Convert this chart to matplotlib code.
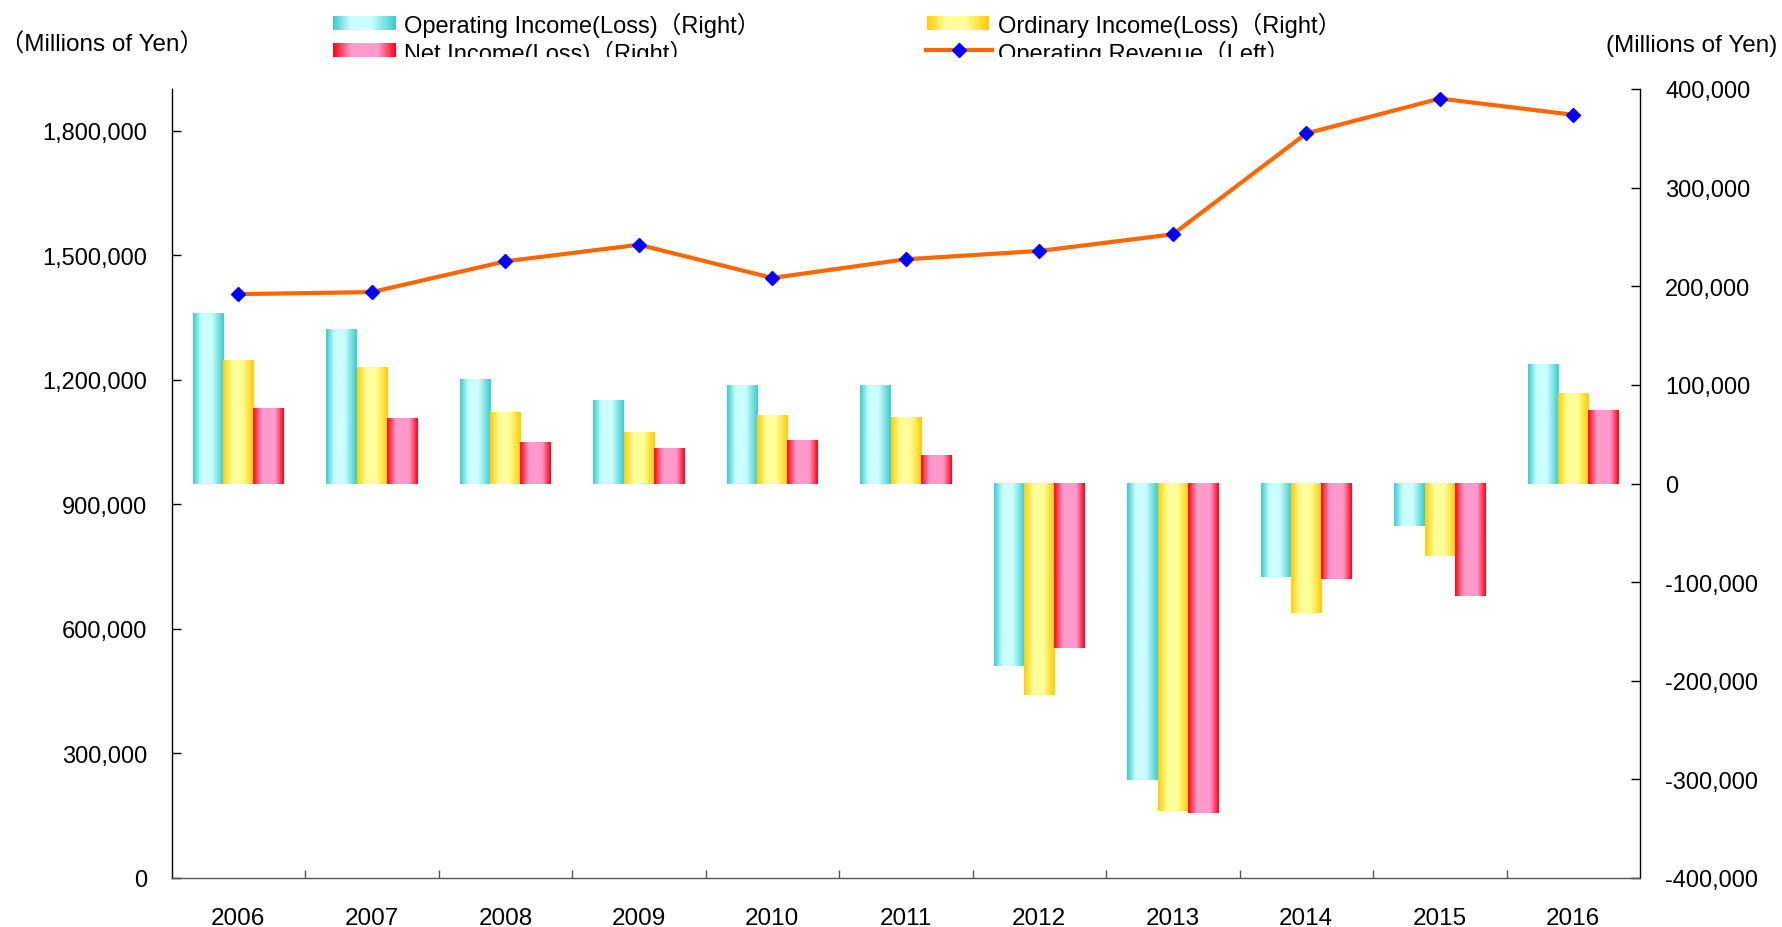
import matplotlib
matplotlib.use("Agg")
import matplotlib.pyplot as plt
import matplotlib.colors as mcolors
import numpy as np
from matplotlib.lines import Line2D
from matplotlib.ticker import FuncFormatter
from matplotlib.transforms import Bbox, TransformedBbox

YEARS = ["2006", "2007", "2008", "2009", "2010", "2011",
         "2012", "2013", "2014", "2015", "2016"]

# left axis (millions of yen)
OPERATING_REVENUE = [1406000, 1411000, 1485000, 1525000, 1445000, 1490000,
                     1510000, 1550000, 1793000, 1877000, 1838000]

# right axis (millions of yen)
OPERATING_INCOME = [173000, 157000, 106000, 85000, 100000, 100000,
                    -185000, -301000, -95000, -43000, 121000]
ORDINARY_INCOME = [125000, 118000, 73000, 52000, 69000, 67000,
                   -214000, -332000, -131000, -74000, 92000]
NET_INCOME = [77000, 66000, 42000, 36000, 44000, 29000,
              -167000, -334000, -97000, -114000, 75000]

LEFT_TICKS = [0, 300000, 600000, 900000, 1200000, 1500000, 1800000]
RIGHT_TICKS = [-400000, -300000, -200000, -100000, 0, 100000, 200000, 300000, 400000]

LABEL_OPERATING = "Operating Income(Loss)（Right）"
LABEL_ORDINARY = "Ordinary Income(Loss)（Right）"
LABEL_NET = "Net Income(Loss)（Right）"
LABEL_REVENUE = "Operating Revenue（Left）"
UNIT_LEFT = "（Millions of Yen）"
UNIT_RIGHT = "(Millions of Yen)"

plt.rcParams["font.family"] = ["Liberation Sans", "Noto Sans CJK JP"]

W, H = 1782, 928
GRAD = np.linspace(0, 1, 256).reshape(1, -1)


def gradient_cmap(edge, light, lo=0.3, hi=0.6):
    return mcolors.LinearSegmentedColormap.from_list(
        "grad", [(0.0, edge), (lo, light), (hi, light), (1.0, edge)]
    )


CYAN = gradient_cmap("#3ACBCB", "#CCFFFF", 0.28, 0.6)
YELLOW = gradient_cmap("#FFCC00", "#FFFF99", 0.3, 0.62)
PINK = gradient_cmap("#FF0010", "#FF99CC", 0.28, 0.72)


def gradient_bars(ax, x, values, width, cmap):
    bars = ax.bar(x, values, width, color="none", edgecolor="none")
    for rect in bars:
        x0, y0 = rect.get_x(), rect.get_y()
        w, h = rect.get_width(), rect.get_height()
        ax.imshow(GRAD, cmap=cmap, extent=[x0, x0 + w, y0, y0 + h],
                  aspect="auto", clip_path=rect, interpolation="bicubic",
                  zorder=2)


def fig_box(x0, y0, x1, y1):
    return [x0 / W, 1 - y1 / H, (x1 - x0) / W, (y1 - y0) / H]


def money(v, _pos=None):
    return f"{v:,.0f}"


fig = plt.figure(figsize=(W / 100, H / 100), dpi=100)
ax = fig.add_axes(fig_box(171.6, 90, 1640, 879))
ax2 = ax.twinx()

x = np.arange(len(YEARS))
bw = 0.227
gradient_bars(ax2, x - bw, OPERATING_INCOME, bw, CYAN)
gradient_bars(ax2, x, ORDINARY_INCOME, bw, YELLOW)
gradient_bars(ax2, x + bw, NET_INCOME, bw, PINK)

ax.plot(x, OPERATING_REVENUE, color="#FF6600", lw=3, marker="D", ms=7.5,
        mfc="#0000FF", mec="#0000FF", zorder=3)

ax.set_zorder(ax2.get_zorder() + 1)
ax.patch.set_visible(False)

ax.set_xlim(-0.5, len(YEARS) - 0.5)
ax2.set_xlim(-0.5, len(YEARS) - 0.5)
ax.set_ylim(0, 1900000)
ax2.set_ylim(-400000, 400000)

ax.set_xticks(np.arange(0.5, len(YEARS) - 0.5, 1))
ax.set_xticks(x, minor=True)
ax.set_xticklabels(YEARS, minor=True)
ax.tick_params(axis="x", which="major", direction="in", length=6,
               width=1, color="#555555", labelbottom=False)
ax.tick_params(axis="x", which="minor", length=0, pad=21, labelsize=17.5)

ax.set_yticks(LEFT_TICKS)
ax.yaxis.set_major_formatter(FuncFormatter(money))
ax.tick_params(axis="y", direction="in", length=6.5, width=1, pad=17.5,
               labelsize=17)

ax2.set_yticks(RIGHT_TICKS)
ax2.yaxis.set_major_formatter(FuncFormatter(money))
ax2.tick_params(axis="y", direction="in", length=6.5, width=1, pad=18,
                labelsize=17)

for side in ["top", "right"]:
    ax.spines[side].set_visible(False)
for side in ["top", "left", "bottom"]:
    ax2.spines[side].set_visible(False)
ax.spines["left"].set_color("black")
ax.spines["bottom"].set_color("#555555")
ax2.spines["right"].set_color("black")
for sp in [ax.spines["left"], ax.spines["bottom"], ax2.spines["right"]]:
    sp.set_linewidth(1)

# legend, drawn by hand; the second row is cut off at the top of the chart
clip = TransformedBbox(Bbox([[0, 1 - 57.5 / H], [1, 1]]), fig.transFigure)
swatches = [
    (CYAN, (333, 17, 395, 31), LABEL_OPERATING, (404.5, 33)),
    (YELLOW, (927, 17, 989, 31), LABEL_ORDINARY, (997.5, 33)),
    (PINK, (333, 44, 395, 58), LABEL_NET, (404.5, 61)),
]
for cmap, box, label, (tx, ty) in swatches:
    sw = fig.add_axes(fig_box(*box))
    sw.imshow(GRAD, cmap=cmap, aspect="auto", interpolation="bicubic")
    sw.axis("off")
    t = fig.text(tx / W, 1 - ty / H, label, fontsize=17, va="baseline")
    t.set_clip_box(clip)

fig.add_artist(Line2D([926 / W, 992 / W], [1 - 50.5 / H] * 2,
                      transform=fig.transFigure, color="#FF6600", lw=3))
fig.add_artist(Line2D([959 / W], [1 - 50.5 / H], transform=fig.transFigure,
                      marker="D", ms=7.5, mfc="#0000FF", mec="#0000FF",
                      ls="none"))
t = fig.text(997.5 / W, 1 - 61 / H, LABEL_REVENUE, fontsize=17, va="baseline")
t.set_clip_box(clip)

fig.text(0 / W, 1 - 45 / H, UNIT_LEFT, fontsize=17.5, va="center", ha="left")
fig.text(1777 / W, 1 - 46 / H, UNIT_RIGHT, fontsize=17.5, va="center",
         ha="right")

fig.savefig("out.png", dpi=100)
